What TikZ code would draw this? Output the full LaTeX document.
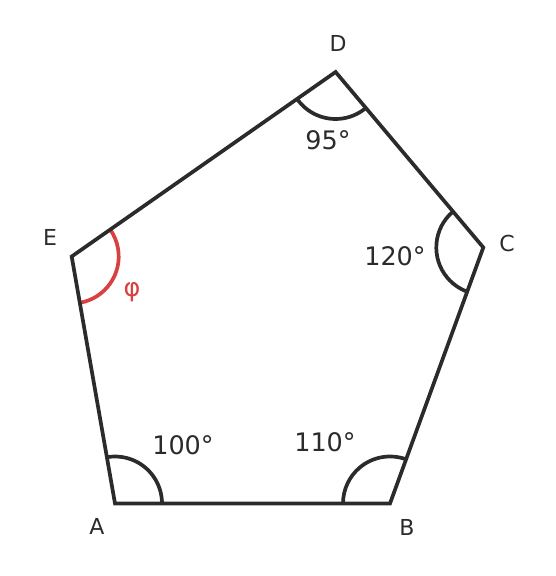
\documentclass[tikz,border=0pt]{standalone}
\usepackage{fontspec}
\setmainfont{DejaVu Sans}
\usetikzlibrary{calc}
\definecolor{ink}{HTML}{2B2B2B}
\definecolor{redarc}{HTML}{D94040}
\begin{document}
\begin{tikzpicture}[x=1pt,y=1pt,
  edge/.style={draw=ink,line width=3.7pt,line join=miter},
  anglearc/.style={draw=ink,line width=3.7pt},
  vlabel/.style={text=ink,font=\fontsize{22}{24}\selectfont,inner sep=0pt},
  alabel/.style={text=ink,font=\fontsize{25.5}{28}\selectfont,inner sep=0pt}]
\useasboundingbox (0,0) rectangle (555,576);
\coordinate (A) at (115,72.5);
\coordinate (B) at (390,72.5);
\coordinate (C) at (483.3,328.5);
\coordinate (D) at (335.6,504);
\coordinate (E) at (71.7,319.5);
% angle arcs
\draw[anglearc] ($(A)+(0:47)$) arc[start angle=0,end angle=99.9,radius=47];
\draw[anglearc] ($(B)+(70:47)$) arc[start angle=70,end angle=180,radius=47];
\draw[anglearc] ($(C)+(130.2:47)$) arc[start angle=130.2,end angle=250,radius=47];
\draw[anglearc] ($(D)+(215:47)$) arc[start angle=215,end angle=310.2,radius=47];
\draw[anglearc,draw=redarc] ($(E)+(-80.1:47)$) arc[start angle=-80.1,end angle=35,radius=47];
% polygon
\draw[edge] (A) -- (B) -- (C) -- (D) -- (E) -- cycle;
% vertex labels
\node[vlabel] (lA) at (97,50) {A};
\node[vlabel] (lB) at (407,49) {B};
\node[vlabel] (lC) at (507,333) {C};
\node[vlabel] (lD) at (338,533) {D};
\node[vlabel] (lE) at (50,339) {E};
% angle labels
\node[alabel] (a100) at (183,131) {100°};
\node[alabel] (a110) at (325,134) {110°};
\node[alabel] (a120) at (395,320) {120°};
\node[alabel] (a95) at (328,436) {95°};
\node[alabel,text=redarc] (phi) at (132,284) {φ};
\end{tikzpicture}
\end{document}
